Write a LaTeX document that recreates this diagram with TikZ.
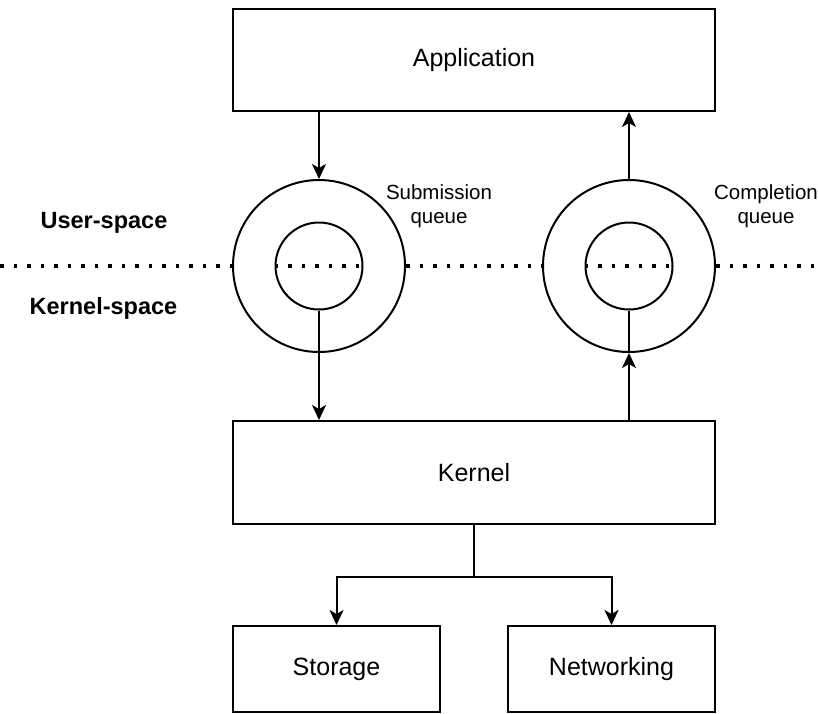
\documentclass[tikz,border=0pt]{standalone}
\usepackage{fontspec}
\setmainfont{Liberation Sans}
\usetikzlibrary{arrows.meta}
\begin{document}
\begin{tikzpicture}[x=1pt,y=-1pt,
  line width=2pt,
  block/.style={draw, rectangle, inner sep=0pt, font=\fontsize{25}{30}\selectfont},
  ring/.style={draw, circle, inner sep=0pt, minimum size=172pt},
  hole/.style={draw, circle, inner sep=0pt, minimum size=87pt},
  qlabel/.style={align=center, font=\fontsize{20.5}{24}\selectfont},
  zone/.style={font=\fontsize{23.5}{28}\selectfont\bfseries},
  arr/.style={-{Stealth[length=15pt,width=14pt,inset=4pt]}},
  dots/.style={line width=3.5pt, dash pattern=on 3.5pt off 10pt}]
\useasboundingbox (0,0) rectangle (818,713);

% boxes
\node[block, minimum width=482pt, minimum height=102pt] (app) at (474,60) {Application};
\node[block, minimum width=482pt, minimum height=103pt] (kernel) at (474,472.5) {Kernel};
\node[block, minimum width=207pt, minimum height=86pt] (storage) at (336.5,669) {Storage};
\node[block, minimum width=207pt, minimum height=86pt] (net) at (611.5,669) {Networking};

% queue rings
\node[ring] (sqo) at (319,266) {};
\node[hole] (sqi) at (319,266) {};
\node[ring] (cqo) at (629,266) {};
\node[hole] (cqi) at (629,266) {};

% user/kernel boundary
\coordinate (bl) at (0,266);
\coordinate (br) at (818,266);
\draw[dots] (bl) -- (sqo.west);
\draw[dots] (sqi.west) -- (sqi.east);
\draw[dots] (sqo.east) -- (cqo.west);
\draw[dots] (cqi.west) -- (cqi.east);
\draw[dots] (cqo.east) -- (br);

% labels
\node[qlabel] (sql) at (439,206) {Submission\\queue};
\node[qlabel] (cql) at (766,206) {Completion\\queue};
\node[zone] (us) at (104,223) {User-space};
\node[zone] (ks) at (103.5,308) {Kernel-space};

% submission path
\draw[arr] (app.south -| sqo.north) -- (sqo.north);
\draw (sqi.south) -- (sqo.south);
\draw[arr] (sqo.south) -- (sqo.south |- kernel.north);

% completion path
\draw[arr] (cqo.south |- kernel.north) -- (cqo.south);
\draw (cqo.south) -- (cqi.south);
\draw[arr] (cqo.north) -- (cqo.north |- app.south);

% kernel fan-out
\draw[arr] (kernel.south) -- ++(0,52) -| (storage.north);
\draw[arr] (kernel.south) -- ++(0,52) -| (net.north);
\end{tikzpicture}
\end{document}
